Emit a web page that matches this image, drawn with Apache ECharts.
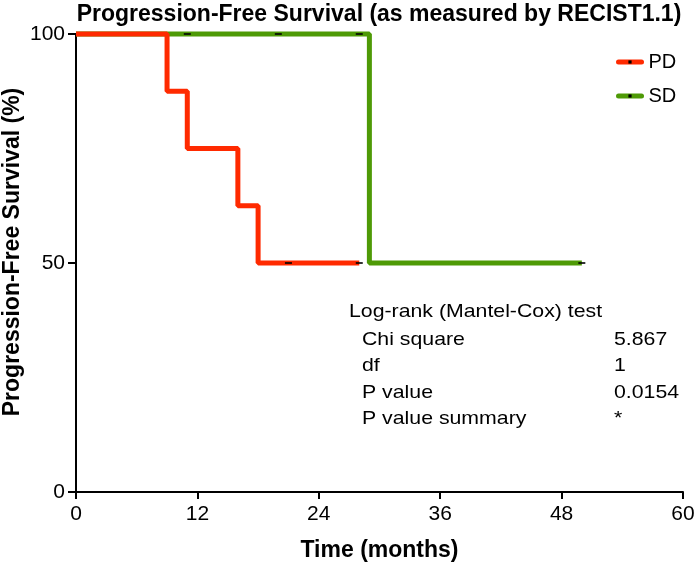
<!DOCTYPE html>
<html>
<head>
<meta charset="utf-8">
<script src="https://cdn.jsdelivr.net/npm/echarts@6/dist/echarts.min.js"></script>
<style>
  html, body { margin: 0; padding: 0; background: #fff; }
  #chart { width: 696px; height: 574px; }
</style>
</head>
<body>
<div id="chart"></div>
<script>
// Kaplan-Meier steps: [months, survival %]
const pdSteps = [[0, 100], [9, 87.5], [11, 75], [16, 62.5], [18, 50], [28, 50]]
const sdSteps = [[0, 100], [29, 50], [50, 50]]
// censored observations
const pdCensored = [[21, 50], [28, 50]]
const sdCensored = [[11, 100], [20, 100], [28, 100], [50, 50]]
const xTicks = [0, 12, 24, 36, 48, 60]
const yTicks = [0, 50, 100]
const statLabels = ['Chi square', 'df', 'P value', 'P value summary']
const statValues = ['5.867', '1', '0.0154', '*']

const RED = '#ff2a00'
const GREEN = '#4e9a06'
const FONT = 'Liberation Sans, Arial, sans-serif'

const chart = echarts.init(document.getElementById('chart'))

// text in the original is a little wider than Arial, so stretch it
const statsGraphic = [{
  type: 'text', x: 349, y: 302, scaleX: 1.12,
  style: { text: 'Log-rank (Mantel-Cox) test', font: '19px ' + FONT, fill: '#000' }
}]
statLabels.forEach((label, i) => {
  statsGraphic.push({
    type: 'text', x: 362, y: 330 + i * 26.5, scaleX: 1.12,
    style: { text: label, font: '19px ' + FONT, fill: '#000' }
  })
  statsGraphic.push({
    type: 'text', x: 614, y: 330 + i * 26.5, scaleX: 1.12,
    style: { text: statValues[i], font: '19px ' + FONT, fill: '#000' }
  })
})

const option = {
  animation: false,
  title: {
    text: 'Progression-Free Survival (as measured by RECIST1.1)',
    left: 374, top: -2, textAlign: 'center',
    textStyle: { fontFamily: FONT, fontWeight: 'bold', fontSize: 23, color: '#000' }
  },
  legend: {
    orient: 'vertical',
    left: 611, top: 47,
    itemWidth: 23, itemHeight: 4, itemGap: 14,
    data: ['PD', 'SD'],
    lineStyle: { width: 5, cap: 'round' },
    itemStyle: { color: '#000', borderWidth: 0 },
    textStyle: { fontFamily: FONT, fontSize: 20, color: '#000', padding: [0, 0, 0, 2] }
  },
  grid: { left: 76, right: 13, top: 34, bottom: 82, outerBoundsMode: 'none' },
  xAxis: {
    type: 'value', min: 0, max: 60, interval: 12,
    name: 'Time (months)', nameLocation: 'middle', nameGap: 47,
    nameMoveOverlap: false,
    nameTextStyle: { fontFamily: FONT, fontWeight: 'bold', fontSize: 23, color: '#000' },
    axisLine: { lineStyle: { color: '#000', width: 2 } },
    axisTick: { length: 7, lineStyle: { color: '#000', width: 2 } },
    axisLabel: {
      fontFamily: FONT, fontSize: 21, color: '#000', margin: 12,
      formatter: v => xTicks.includes(v) ? String(v) : ''
    },
    splitLine: { show: false }
  },
  yAxis: {
    type: 'value', min: 0, max: 100, interval: 50,
    name: 'Progression-Free Survival (%)', nameLocation: 'middle', nameGap: 52,
    nameMoveOverlap: false,
    nameTextStyle: {
      fontFamily: FONT, fontWeight: 'bold', fontSize: 23, color: '#000',
      padding: [0, 0, 0, 22]
    },
    axisLine: { show: true, lineStyle: { color: '#000', width: 2 } },
    axisTick: { show: true, length: 8, lineStyle: { color: '#000', width: 2 } },
    axisLabel: {
      fontFamily: FONT, fontSize: 21, color: '#000', margin: 11,
      formatter: v => yTicks.includes(v) ? String(v) : ''
    },
    splitLine: { show: false }
  },
  series: [
    {
      name: 'SD', type: 'line', step: 'end', data: sdSteps,
      symbol: 'rect', symbolSize: [7, 3], showSymbol: false,
      lineStyle: { color: GREEN, width: 5 },
      itemStyle: { color: GREEN },
      clip: false, z: 2
    },
    {
      name: 'PD', type: 'line', step: 'end', data: pdSteps,
      symbol: 'rect', symbolSize: [7, 3], showSymbol: false,
      lineStyle: { color: RED, width: 5 },
      itemStyle: { color: RED },
      clip: false, z: 3
    },
    {
      name: 'SD censored', type: 'scatter', data: sdCensored,
      symbol: 'rect', symbolSize: [7, 2], itemStyle: { color: '#000' }, z: 5
    },
    {
      name: 'PD censored', type: 'scatter', data: pdCensored,
      symbol: 'rect', symbolSize: [7, 2], itemStyle: { color: '#000' }, z: 5
    }
  ],
  graphic: statsGraphic
}

chart.setOption(option)
</script>
</body>
</html>
